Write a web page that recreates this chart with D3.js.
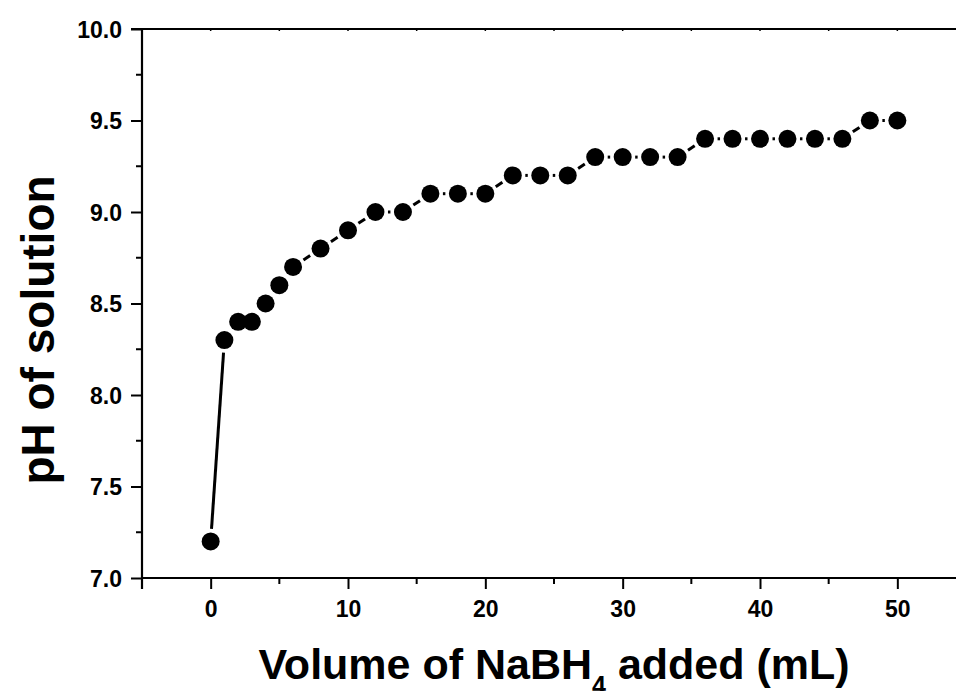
<!DOCTYPE html>
<html>
<head>
<meta charset="utf-8">
<script src="https://cdn.jsdelivr.net/npm/d3@7"></script>
<style>
  html, body { margin: 0; padding: 0; background: #fff; }
  svg { display: block; }
  text { font-family: "Liberation Sans", Arial, sans-serif; font-weight: bold; fill: #000; }
</style>
</head>
<body>
<svg id="chart" width="956" height="691"></svg>
<script>
// ---- data ----
const volumes = [0, 1, 2, 3, 4, 5, 6, 8, 10, 12, 14, 16, 18, 20, 22, 24, 26, 28, 30, 32, 34, 36, 38, 40, 42, 44, 46, 48, 50];
const phValues = [7.2, 8.3, 8.4, 8.4, 8.5, 8.6, 8.7, 8.8, 8.9, 9.0, 9.0, 9.1, 9.1, 9.1, 9.2, 9.2, 9.2, 9.3, 9.3, 9.3, 9.3, 9.4, 9.4, 9.4, 9.4, 9.4, 9.4, 9.5, 9.5];
const xTickValues = [0, 10, 20, 30, 40, 50];
const yTickValues = [7.0, 7.5, 8.0, 8.5, 9.0, 9.5, 10.0];
const xLabel = ["Volume of NaBH", "4", " added (mL)"];
const yLabel = "pH of solution";

// ---- layout ----
const svg = d3.select("#chart");
const mLeft = 142, mRight = 966, mTop = 29, mBottom = 578;

const x = d3.scaleLinear().domain([-5, 55]).range([mLeft, mRight]);
const y = d3.scaleLinear().domain([7, 10]).range([mBottom, mTop]);

const axisColor = "#000";

const xMinor = d3.range(-5, 56, 5).filter(v => !xTickValues.includes(v));
const yMinor = d3.range(7.25, 10, 0.5);

// bottom axis
const gx = svg.append("g").attr("transform", `translate(0,${mBottom})`);
gx.call(d3.axisBottom(x).tickValues(xTickValues).tickFormat(d3.format("d")).tickSize(11).tickSizeOuter(0));
gx.select(".domain").remove();
gx.selectAll(".tick line").attr("stroke", axisColor).attr("stroke-width", 2);
gx.selectAll(".tick text").attr("font-size", 23).attr("dy", 0).attr("y", 39)
  .style("font-family", '"Liberation Sans", Arial, sans-serif').style("font-weight", "bold");
gx.selectAll(".minor").data(xMinor.filter(v => v > -5)).enter().append("line")
  .attr("x1", d => x(d)).attr("x2", d => x(d)).attr("y1", 0).attr("y2", 6)
  .attr("stroke", axisColor).attr("stroke-width", 2);

// left axis
const gy = svg.append("g").attr("transform", `translate(${mLeft},0)`);
gy.call(d3.axisLeft(y).tickValues(yTickValues).tickFormat(d3.format(".1f")).tickSize(11).tickSizeOuter(0));
gy.select(".domain").remove();
gy.selectAll(".tick line").attr("stroke", axisColor).attr("stroke-width", 2);
gy.selectAll(".tick text").attr("font-size", 23).attr("x", -20).attr("dy", "0.36em")
  .style("font-family", '"Liberation Sans", Arial, sans-serif').style("font-weight", "bold");
gy.selectAll(".minor").data(yMinor).enter().append("line")
  .attr("x1", -6).attr("x2", 0).attr("y1", d => y(d)).attr("y2", d => y(d))
  .attr("stroke", axisColor).attr("stroke-width", 2);

// top tiny ticks
svg.append("g").selectAll("line").data(d3.range(0, 55, 5)).enter().append("line")
  .attr("x1", d => x(d)).attr("x2", d => x(d)).attr("y1", mTop).attr("y2", mTop + 2)
  .attr("stroke", axisColor).attr("stroke-width", 1.5);

// frame lines
svg.append("line").attr("x1", mLeft).attr("x2", mRight).attr("y1", mBottom).attr("y2", mBottom)
  .attr("stroke", axisColor).attr("stroke-width", 2.2);
svg.append("line").attr("x1", mLeft - 11).attr("x2", mRight).attr("y1", mTop).attr("y2", mTop)
  .attr("stroke", axisColor).attr("stroke-width", 2.2);
svg.append("line").attr("x1", mLeft).attr("x2", mLeft).attr("y1", mTop).attr("y2", mBottom + 11)
  .attr("stroke", axisColor).attr("stroke-width", 2.2);
svg.append("line").attr("x1", mRight).attr("x2", mRight).attr("y1", mTop).attr("y2", mBottom)
  .attr("stroke", axisColor).attr("stroke-width", 2.2);

// ---- data line with gaps around markers ----
const pts = volumes.map((v, i) => [x(v), y(phValues[i])]);
const cut = 12.5;
const segs = [];
for (let i = 0; i < pts.length - 1; i++) {
  const [x1, y1] = pts[i], [x2, y2] = pts[i + 1];
  const dx = x2 - x1, dy = y2 - y1, len = Math.hypot(dx, dy);
  if (len > 2 * cut) {
    const ux = dx / len, uy = dy / len;
    segs.push([x1 + ux * cut, y1 + uy * cut, x2 - ux * cut, y2 - uy * cut]);
  }
}
svg.append("g").selectAll("line").data(segs).enter().append("line")
  .attr("x1", d => d[0]).attr("y1", d => d[1]).attr("x2", d => d[2]).attr("y2", d => d[3])
  .attr("stroke", "#000").attr("stroke-width", 3);

// markers
svg.append("g").selectAll("circle").data(volumes).enter().append("circle")
  .attr("cx", d => x(d)).attr("cy", (d, i) => y(phValues[i])).attr("r", 9).attr("fill", "#000");

// ---- axis titles ----
const xt = svg.append("text").attr("x", 554).attr("y", 679).attr("text-anchor", "middle").attr("font-size", 43);
xt.append("tspan").text(xLabel[0]);
xt.append("tspan").text(xLabel[1]).attr("font-size", 25).attr("dy", 15);
xt.append("tspan").text(xLabel[2]).attr("dy", -15);

svg.append("text").attr("transform", "translate(54,330) rotate(-90)")
  .attr("text-anchor", "middle").attr("font-size", 46).text(yLabel);
</script>
</body>
</html>
